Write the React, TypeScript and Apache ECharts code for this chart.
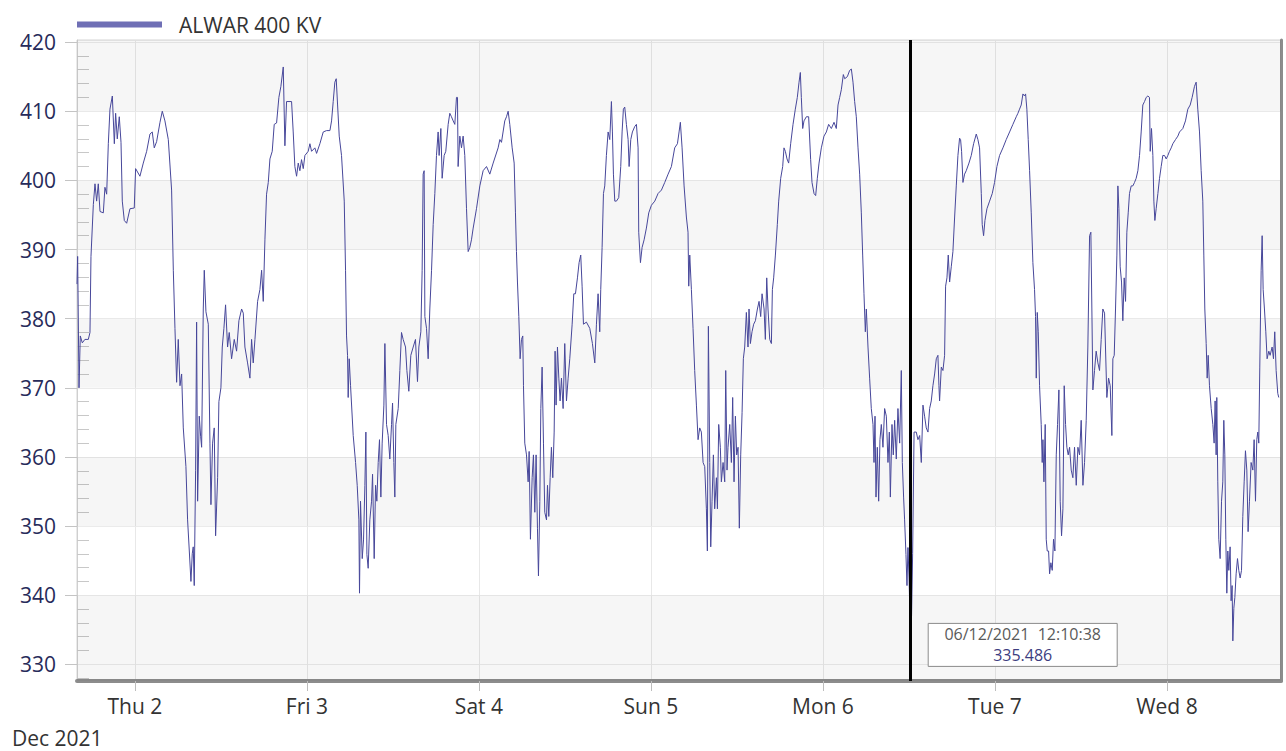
import React, { useEffect, useRef } from "react";
import * as echarts from "echarts";

// ---- data (hours after 1 Dec 2021 15:55, kV) ----
const startTime = new Date(2021, 11, 1, 15, 55, 0).getTime();
const windowHours = 168;
const HOUR = 3600000;
const DAY = 24 * HOUR;

const seriesName = "ALWAR 400 KV";

const dec1to2: [number, number][] = [
  [0, 385], [0.09, 389], [0.28, 370], [0.46, 377.5], [0.74, 376.5], [1.1, 377], [1.58, 377], [1.81, 378],
  [1.95, 389], [2.28, 396.5], [2.51, 399.5], [2.74, 397], [2.97, 399.5], [3.21, 395.5], [3.67, 395.3],
  [3.9, 399], [4.14, 398], [4.37, 405.3], [4.6, 410.3], [4.93, 412.2], [5.21, 405.3], [5.39, 409.7],
  [5.62, 406], [5.9, 409.2], [6.14, 405.5], [6.32, 397], [6.6, 394.2], [6.93, 393.8], [7.39, 395.9],
  [7.99, 396], [8.18, 401.7], [8.78, 400.6], [9.25, 402.5], [9.72, 404.2], [10.18, 406.7], [10.5, 407],
  [10.78, 404.7], [11.11, 405.6], [11.58, 408.4], [11.9, 410], [12.27, 408.6], [12.74, 405.9],
  [13.2, 398.6], [13.44, 387], [13.67, 378.6], [13.9, 370.8], [14.13, 377], [14.37, 370.3], [14.6, 372],
  [14.83, 364.2], [15.2, 358.6], [15.43, 350.9], [15.67, 346.4], [15.9, 342], [16.08, 346], [16.22, 347],
  [16.36, 341.4], [16.55, 358], [16.69, 379.5], [16.83, 353.6], [17.06, 365.9], [17.25, 363],
  [17.39, 361.4], [17.62, 381.4], [17.76, 387], [17.99, 381], [18.32, 379.2], [18.55, 362], [18.69, 353.1],
  [18.92, 362], [19.15, 364.2], [19.34, 348.6], [19.62, 357], [19.8, 368], [20.08, 370], [20.27, 375.9],
  [20.5, 378.6], [20.73, 382], [21.01, 375.9], [21.24, 378], [21.57, 374.2], [21.94, 377], [22.27, 375.3],
  [22.59, 379.7], [22.97, 381.4], [23.2, 380.8], [23.43, 375.9], [23.8, 373.6], [24.13, 371.4],
  [24.36, 377], [24.59, 373.6], [24.83, 377], [25.2, 382.5], [25.52, 384.2], [25.76, 387], [25.99, 382.5],
  [26.22, 391.4], [26.45, 398], [26.69, 399.7], [26.92, 403.1], [27.24, 404.2], [27.52, 408.1],
  [27.85, 408.3], [28.17, 412], [28.45, 413.6], [28.78, 416.4],
];

const dec2to3: [number, number][] = [
  [29.01, 405], [29.24, 411.4], [29.94, 411.4], [30.17, 407], [30.4, 402], [30.64, 400.6], [30.87, 402.5],
  [31.1, 401.4], [31.33, 403], [31.57, 401.7], [31.8, 403.6], [32.26, 404.2], [32.5, 405.3], [32.73, 404.2],
  [33.19, 404.7], [33.43, 403.9], [33.89, 405.3], [34.36, 407], [34.82, 407.2], [35.29, 407.2],
  [35.52, 408.6], [35.75, 411.4], [35.98, 414.2], [36.17, 414.7], [36.36, 410.9], [36.59, 406.4],
  [36.91, 403.6], [37.29, 397], [37.47, 387], [37.61, 377.5], [37.75, 374.7], [37.84, 368.6],
  [37.98, 374.2], [38.17, 370.3], [38.54, 363.1], [38.87, 359.2], [39.1, 355.9], [39.33, 350.9],
  [39.42, 340.3], [39.56, 353.6], [39.8, 345.3], [39.98, 348], [40.17, 355.9], [40.31, 363.6],
  [40.45, 345.9], [40.63, 343.9], [40.86, 350.9], [41.1, 353.6], [41.24, 357.5], [41.47, 345.3],
  [41.66, 355.9], [41.84, 353.6], [42.03, 359.2], [42.21, 362.5], [42.4, 354.2], [42.58, 362],
  [42.82, 367.5], [42.96, 376.4], [43.19, 364.7], [43.42, 363.1], [43.65, 359.7], [43.89, 364.7],
  [44.03, 367.8], [44.21, 359.2], [44.35, 354.2], [44.49, 364.7], [44.82, 367], [45.05, 372.5],
  [45.28, 378], [45.51, 377], [45.84, 375.9], [46.03, 372.5], [46.3, 369.5], [46.58, 374.7],
  [46.91, 375.9], [47.23, 377], [47.51, 370.9], [47.7, 375.9], [47.98, 378.1], [48.16, 387],
  [48.3, 400.9], [48.44, 401.4], [48.54, 380.3], [48.77, 378.6], [49.0, 374.2], [49.23, 381.4],
  [49.47, 387], [49.7, 393.6], [49.93, 398.1], [50.16, 403.6], [50.39, 407], [50.53, 403.6],
  [50.77, 407.5], [50.95, 400.3], [51.23, 403.6], [51.46, 404.2], [51.79, 408.1], [52.02, 409.7],
  [52.25, 409.2], [52.49, 408.6], [52.72, 408.1], [52.95, 412], [53.09, 412], [53.18, 402],
  [53.42, 406.4], [53.65, 404.7], [53.88, 406.4], [54.11, 403.6], [54.35, 395.9], [54.58, 389.7],
  [54.81, 390.3], [55.04, 391.4], [55.28, 393.1], [55.74, 395.9], [56.21, 399.2], [56.67, 401.4],
  [57.14, 402], [57.6, 400.9], [58.07, 402.5],
];

const dec4to5: [number, number][] = [
  [58.76, 404.7], [59.0, 405.9], [59.23, 405.5], [59.69, 408.6], [59.93, 409.2], [60.16, 410],
  [60.39, 408.1], [60.72, 404.7], [61.0, 402.5], [61.18, 395.3], [61.32, 389.7], [61.46, 385.3],
  [61.65, 380.3], [61.83, 374.2], [62.02, 377], [62.2, 377.5], [62.3, 370.3], [62.48, 362],
  [62.72, 360.3], [62.95, 356.4], [63.09, 360.8], [63.27, 348.1], [63.51, 357], [63.69, 360.3],
  [63.88, 352], [64.06, 360.3], [64.25, 349.7], [64.39, 342.8], [64.58, 353.6], [64.72, 367],
  [64.9, 373], [65.09, 362], [65.27, 352], [65.51, 350.9], [65.65, 355.9], [65.83, 351.4], [66.02, 357],
  [66.2, 361.4], [66.39, 357], [66.58, 363.6], [66.71, 375.3], [66.85, 367.5], [67.04, 375.9],
  [67.23, 371.4], [67.41, 368.1], [67.6, 371.4], [67.83, 367], [68.06, 376.4], [68.3, 368.1],
  [68.53, 371.4], [68.76, 374.2], [69.09, 379.2], [69.32, 383.6], [69.55, 383.6], [69.83, 385.9],
  [70.06, 388.1], [70.29, 389.2], [70.48, 384.7], [70.67, 379.2], [71.08, 379.5], [71.55, 378.6],
  [71.92, 376.4], [72.25, 373.6], [72.48, 379.2], [72.71, 383.6], [72.94, 378.1], [73.08, 384.2],
  [73.27, 390.3], [73.46, 398.1], [73.64, 399.2], [73.87, 403.6], [74.11, 407], [74.34, 405.9],
  [74.57, 411.4], [74.71, 407], [74.85, 400.9], [75.04, 397], [75.27, 397], [75.59, 397.5], [75.87, 402],
  [76.06, 407], [76.24, 410.3], [76.43, 410.6], [76.66, 408.1], [76.9, 405.9], [77.04, 402],
  [77.27, 405.9], [77.5, 407], [77.83, 407.8], [78.06, 408.1], [78.29, 404.7], [78.38, 392.5],
  [78.62, 388.1], [78.85, 390.3], [79.13, 391.4], [79.45, 393.1], [79.78, 395.3], [80.15, 396.4],
  [80.62, 397], [81.08, 398.1], [81.55, 398.6], [82.01, 399.7], [82.48, 400.9], [82.94, 402],
  [83.4, 404.7], [83.78, 405.3], [84.01, 407], [84.19, 408.4], [84.43, 404.7], [84.71, 399.2],
  [85.03, 394.7], [85.26, 392.5], [85.36, 384.7], [85.5, 389.2], [85.73, 384.2], [85.96, 378.6],
  [86.19, 372.5], [86.43, 367.5], [86.66, 362.5], [86.89, 364.2], [87.12, 363.6], [87.36, 359.2],
  [87.59, 358.6],
];

const dec5to6: [number, number][] = [
  [87.82, 352.5], [87.96, 346.4], [88.1, 378.9], [88.29, 359.2], [88.43, 347], [88.61, 353.6],
  [88.8, 360.3], [88.98, 352.5], [89.22, 357], [89.36, 352.5], [89.54, 364.7], [89.77, 361.4],
  [89.91, 356.4], [90.15, 359.2], [90.38, 356.4], [90.52, 372.5], [90.7, 358.1], [90.84, 361.4],
  [91.08, 364.7], [91.31, 359.2], [91.49, 368.6], [91.68, 356.4], [91.87, 365.9], [92.05, 360.3],
  [92.24, 361.4], [92.42, 349.7], [92.61, 360.3], [92.8, 366.4], [92.98, 374.2], [93.17, 375.9],
  [93.4, 380.9], [93.63, 375.9], [93.77, 381.4], [93.96, 376.4], [94.19, 378.1], [94.42, 379.2],
  [94.66, 379.7], [94.94, 381.4], [95.17, 382.5], [95.4, 380.3], [95.59, 383.6], [95.87, 381.4],
  [96.05, 377], [96.24, 385.9], [96.42, 381.4], [96.66, 377], [96.89, 376.4], [97.03, 384.2],
  [97.21, 385.9], [97.45, 389.2], [97.72, 393.6], [97.91, 397], [98.19, 400.3], [98.47, 402],
  [98.65, 404.7], [98.84, 404.2], [99.07, 403.1], [99.3, 402.5], [99.58, 405.3], [99.91, 408.1],
  [100.23, 410.3], [100.51, 412], [100.75, 414.2], [100.93, 415.6], [101.07, 412], [101.26, 407.5],
  [101.44, 408.6], [101.77, 409.2], [102.09, 409.2], [102.37, 403], [102.56, 399.7], [102.84, 398.1],
  [103.07, 397.8], [103.3, 400.3], [103.54, 402.5], [103.86, 404.7], [104.23, 406.4], [104.56, 407],
  [104.88, 408.1], [105.26, 407.5], [105.63, 408.4], [105.95, 407.5], [106.19, 410.9], [106.42, 412],
  [106.65, 413.1], [106.93, 415.3], [107.12, 414.7], [107.49, 415], [107.81, 415.9], [108.05, 416.1],
  [108.28, 414.2], [108.51, 411.4], [108.74, 409.2], [108.98, 404.7], [109.21, 400.9], [109.44, 395.3],
  [109.63, 389.2], [109.81, 383.6], [110.0, 378.1], [110.14, 381.4], [110.37, 375.9], [110.6, 371.4],
  [110.83, 367], [111.07, 364.7], [111.21, 359.2], [111.35, 365.9], [111.49, 354.2], [111.67, 361.4],
  [111.86, 353.6], [112.04, 362.5], [112.23, 364.7], [112.46, 361.4], [112.69, 367], [112.93, 365.9],
  [113.16, 359.2], [113.35, 363.6], [113.49, 354.2], [113.72, 364.7], [113.9, 360.3], [114.09, 365.3],
  [114.32, 359.7], [114.55, 367], [114.79, 362], [115.02, 372.5], [115.16, 359.2], [115.34, 354.2],
  [115.48, 350.9], [115.67, 345.9], [115.81, 341.4], [115.95, 346.9], [116.1, 342.5],
];

// cursor reading shown in the reference
const cursorTime = new Date(2021, 11, 6, 12, 10, 38).getTime();
const cursorValue = 335.486;

const dec6to7: [number, number][] = [
  [116.45, 337], [116.6, 346], [116.8, 363.6], [117.11, 363.6], [117.34, 362.5], [117.58, 363.1],
  [117.81, 359.2], [118.04, 367.5], [118.27, 365.9], [118.5, 364.2], [118.74, 363.6], [118.97, 367],
  [119.2, 368.1], [119.43, 370.3], [119.67, 372], [119.9, 374.2], [120.13, 374.7], [120.27, 370.3],
  [120.36, 368.1], [120.6, 373], [120.83, 372.5], [121.06, 374.7], [121.2, 384.7], [121.39, 385.9],
  [121.57, 389.2], [121.76, 385.3], [121.99, 387.5], [122.22, 389.7], [122.46, 394.7], [122.69, 399.2],
  [122.92, 403.6], [123.15, 406.1], [123.29, 405.9], [123.43, 404.2], [123.62, 399.7], [123.85, 400.9],
  [124.08, 401.4], [124.46, 402.5], [124.78, 403.6], [125.11, 405.3], [125.48, 406.7], [125.71, 405.9],
  [125.94, 404.7], [126.18, 398.1], [126.31, 393.6], [126.5, 392], [126.69, 394.2], [126.97, 395.9],
  [127.34, 397], [127.71, 398.1], [128.03, 399.7], [128.36, 402], [128.73, 403.6], [129.2, 404.7],
  [129.66, 405.9], [130.13, 407], [130.59, 408.1], [131.06, 409.2], [131.29, 409.7], [131.52, 410.3],
  [131.75, 410.9], [131.99, 412.5], [132.22, 412.2], [132.36, 412.5], [132.54, 410.3], [132.73, 405.9],
  [132.92, 401.4], [133.15, 395.3], [133.38, 388.1], [133.61, 384.2], [133.75, 380.3], [133.85, 371.4],
  [133.99, 380.9], [134.13, 378.1], [134.31, 370.3], [134.54, 364.7], [134.68, 359.2], [134.78, 362.5],
  [134.92, 356.4], [135.1, 364.7], [135.24, 348.1], [135.38, 346.4], [135.57, 346.4], [135.71, 343.1],
  [135.89, 344.7], [136.08, 343.6], [136.26, 348.1], [136.45, 346.4], [136.64, 360.3], [136.82, 364.7],
  [137.01, 369.7], [137.19, 353.6], [137.38, 348.6], [137.57, 352.5], [137.75, 370.3], [137.94, 364.7],
  [138.12, 361.4], [138.31, 360.3], [138.5, 361.4], [138.73, 358.1], [138.96, 357], [139.19, 361.4],
  [139.43, 355.9], [139.66, 361.4], [139.89, 360.3], [140.12, 365.3], [140.36, 355.9], [140.59, 359.2],
  [140.82, 365.3], [141.05, 375.9], [141.29, 392], [141.47, 392.5], [141.61, 381.4], [141.75, 369.7],
  [141.98, 372.5], [142.21, 375.3], [142.45, 373.6], [142.68, 372.5], [142.91, 377], [143.14, 381.4],
  [143.38, 380.8],
];

const dec7to8: [number, number][] = [
  [143.7, 368.6], [143.94, 371.4], [144.17, 370.3], [144.4, 363.1], [144.54, 374.2], [144.73, 374.7],
  [144.91, 381.4], [145.1, 389.2], [145.24, 399.2], [145.38, 395.9], [145.56, 387.5], [145.75, 385.3],
  [145.93, 379.7], [146.12, 385.9], [146.31, 382.5], [146.49, 392.5], [146.68, 395.3], [146.86, 398.1],
  [147.1, 399.2], [147.33, 399.2], [147.56, 399.7], [147.79, 400.3], [148.03, 401.4], [148.26, 403.6],
  [148.49, 407], [148.72, 410.9], [148.96, 411.4], [149.19, 412], [149.42, 412.2], [149.65, 412],
  [149.75, 404.2], [149.93, 407.5], [150.12, 403.6], [150.26, 397], [150.4, 394.2], [150.58, 395.9],
  [150.82, 398.1], [151.05, 400.3], [151.28, 402], [151.51, 403.6], [151.75, 403.6], [151.98, 403.1],
  [152.21, 403.6], [152.44, 404.2], [152.68, 404.7], [152.91, 405.3], [153.28, 405.9], [153.61, 406.4],
  [153.84, 407], [154.3, 407.5], [154.67, 408.6], [155.0, 410.3], [155.33, 410.9], [155.6, 412],
  [155.93, 413.6], [156.16, 414.2], [156.39, 410.3], [156.63, 407], [156.86, 401.4], [157.09, 397],
  [157.23, 389.2], [157.37, 381.4], [157.56, 376.4], [157.7, 371.4], [157.84, 374.7], [158.02, 370.3],
  [158.26, 367], [158.49, 364.7], [158.67, 362], [158.81, 368.1], [158.95, 360.3], [159.04, 368.6],
  [159.18, 356.4], [159.32, 348.1], [159.51, 345.3], [159.7, 353.6], [159.88, 356.4], [160.02, 365.3],
  [160.16, 360.3], [160.3, 348.1], [160.44, 340.3], [160.58, 346.4], [160.72, 343.6], [160.9, 347],
  [161.04, 339.2], [161.18, 341.4], [161.28, 333.4], [161.42, 338.1], [161.56, 339.7], [161.74, 343.1],
  [161.93, 345.3], [162.11, 343.6], [162.3, 342.5], [162.49, 343.6], [162.67, 351.4], [162.86, 356.4],
  [163.04, 360.9], [163.23, 358.1], [163.41, 349.2], [163.6, 353.6], [163.83, 359.2], [164.07, 358.1],
  [164.25, 362.5], [164.44, 353.6], [164.62, 362.5], [164.76, 363.6], [164.9, 362], [165.04, 373],
  [165.23, 387], [165.37, 392], [165.51, 384.2], [165.69, 381.4], [165.88, 378.1], [166.06, 374.2],
  [166.3, 375.3], [166.48, 374.7], [166.76, 375.9], [166.95, 374.2], [167.13, 378.1], [167.32, 372.5],
  [167.55, 369.2], [167.69, 368.6],
];

const yMin = 327.6;
const yMax = 420.3;
const majorTicks = [330, 340, 350, 360, 370, 380, 390, 400, 410, 420];
const minorTicks = [
  328, 332, 334, 336, 338, 342, 344, 346, 348, 352, 354, 356, 358, 362, 364, 366, 368, 372, 374, 376, 378,
  382, 384, 386, 388, 392, 394, 396, 398, 402, 404, 406, 408, 412, 414, 416, 418,
];
const shadedBands: [number, number][] = [
  [yMin, 340], [350, 360], [370, 380], [390, 400], [410, yMax],
];
const weekdayNames = ["Sun", "Mon", "Tue", "Wed", "Thu", "Fri", "Sat"];
const monthLabel = "Dec 2021";

const FONT = "'Open Sans', 'Noto Sans', sans-serif";

function pad(n: number) {
  return n < 10 ? "0" + n : "" + n;
}

export default function App() {
  const ref = useRef<HTMLDivElement | null>(null);

  useEffect(() => {
    if (!ref.current) return;
    document.body.style.margin = "0";
    const chart = echarts.init(ref.current, undefined, { renderer: "svg" });

    const toPoint = (s: [number, number]) => [startTime + s[0] * HOUR, s[1]];
    const data = [
      ...dec1to2.map(toPoint),
      ...dec2to3.map(toPoint),
      ...dec4to5.map(toPoint),
      ...dec5to6.map(toPoint),
      [cursorTime, cursorValue],
      ...dec6to7.map(toPoint),
      ...dec7to8.map(toPoint),
    ];

    const monthText = {
      type: "text",
      left: 12,
      top: 727,
      style: { text: monthLabel, fontSize: 21, fill: "#333", fontFamily: FONT },
    };

    chart.setOption({
      animation: false,
      textStyle: { fontFamily: FONT },
      legend: {
        data: [{ name: seriesName, itemStyle: { color: "#6f6fb5" } }],
        left: 72,
        top: 9,
        icon: "rect",
        itemWidth: 85,
        itemHeight: 6,
        textStyle: { fontSize: 21, color: "#333", fontFamily: FONT, padding: [0, 0, 0, 12] },
        selectedMode: false,
      },
      grid: {
        left: 77,
        right: 5,
        top: 40,
        bottom: 70,
        show: true,
        backgroundColor: "#fff",
        borderColor: "#d4d4d4",
        borderWidth: 1,
      },
      xAxis: {
        type: "time",
        min: startTime,
        max: startTime + windowHours * HOUR,
        minInterval: DAY,
        maxInterval: DAY,
        axisLine: { show: true, lineStyle: { color: "#8c8c8c", width: 4 } },
        axisTick: { show: true, length: 10, lineStyle: { color: "#bdbdbd" } },
        axisLabel: {
          fontSize: 21,
          color: "#333",
          fontFamily: FONT,
          margin: 14,
          showMinLabel: false,
          showMaxLabel: false,
          formatter: (v: number) => {
            const d = new Date(v);
            return weekdayNames[d.getDay()] + " " + d.getDate();
          },
        },
        splitLine: { show: true, lineStyle: { color: "#e8e8e8", width: 1 } },
      },
      yAxis: [
        {
          type: "value",
          min: yMin,
          max: yMax,
          position: "left",
          axisLine: { show: true, lineStyle: { color: "#cfcfcf", width: 1 } },
          axisTick: { show: true, length: 12, customValues: majorTicks, lineStyle: { color: "#c4c4c4" } },
          axisLabel: {
            customValues: majorTicks,
            fontSize: 21,
            color: "#272b5a",
            fontFamily: FONT,
            margin: 21,
          },
          splitLine: { show: true, lineStyle: { color: "#ebebeb", width: 1 } },
        },
        {
          type: "value",
          min: yMin,
          max: yMax,
          position: "left",
          axisLine: { show: false },
          axisTick: { show: true, inside: true, length: 12, customValues: minorTicks, lineStyle: { color: "#c8c8c8" } },
          axisLabel: { show: false },
          splitLine: { show: false },
        },
        {
          type: "value",
          min: yMin,
          max: yMax,
          position: "right",
          axisLine: { show: true, lineStyle: { color: "#8c8c8c", width: 3 } },
          axisTick: { show: false },
          axisLabel: { show: false },
          splitLine: { show: false },
        },
      ],
      series: [
        {
          name: seriesName,
          type: "line",
          data,
          symbol: "none",
          showSymbol: false,
          lineStyle: { color: "#47479a", width: 1 },
          itemStyle: { color: "#47479a" },
          markArea: {
            silent: true,
            itemStyle: { color: "rgba(0,0,0,0.035)" },
            data: shadedBands.map((b) => [{ yAxis: b[0] }, { yAxis: b[1] }]),
          },
          markLine: {
            silent: true,
            symbol: "none",
            label: { show: false },
            lineStyle: { color: "#000", width: 3, type: "solid" },
            data: [{ xAxis: cursorTime }],
          },
        },
      ],
      graphic: [monthText],
    });

    const p = chart.convertToPixel({ xAxisIndex: 0, yAxisIndex: 0 }, [cursorTime, 330]) as number[];
    if (p && isFinite(p[0])) {
      const bx = p[0] + 18;
      const by = p[1] - 41;
      const bw = 189;
      const bh = 43;
      const d = new Date(cursorTime);
      const stamp =
        pad(d.getDate()) + "/" + pad(d.getMonth() + 1) + "/" + d.getFullYear() + "  " +
        pad(d.getHours()) + ":" + pad(d.getMinutes()) + ":" + pad(d.getSeconds());
      chart.setOption({
        graphic: [
          monthText,
          {
            type: "rect",
            shape: { x: bx, y: by, width: bw, height: bh },
            style: { fill: "#fff", stroke: "#8a8a8a", lineWidth: 1 },
            z: 100,
          },
          {
            type: "text",
            x: bx + bw / 2,
            y: by + 11,
            style: {
              text: stamp,
              fontSize: 16,
              lineHeight: 16,
              fill: "#5a5a5a",
              fontFamily: FONT,
              align: "center",
              verticalAlign: "middle",
            },
            z: 101,
          },
          {
            type: "text",
            x: bx + bw / 2,
            y: by + 32,
            style: {
              text: cursorValue.toFixed(3),
              fontSize: 16,
              lineHeight: 16,
              fill: "#3d3d80",
              fontFamily: FONT,
              align: "center",
              verticalAlign: "middle",
            },
            z: 101,
          },
        ],
      });
    }

    return () => {
      chart.dispose();
    };
  }, []);

  return (
    <div
      ref={ref}
      style={{ position: "fixed", left: 0, top: 0, width: 1286, height: 751, background: "#fff" }}
    />
  );
}
